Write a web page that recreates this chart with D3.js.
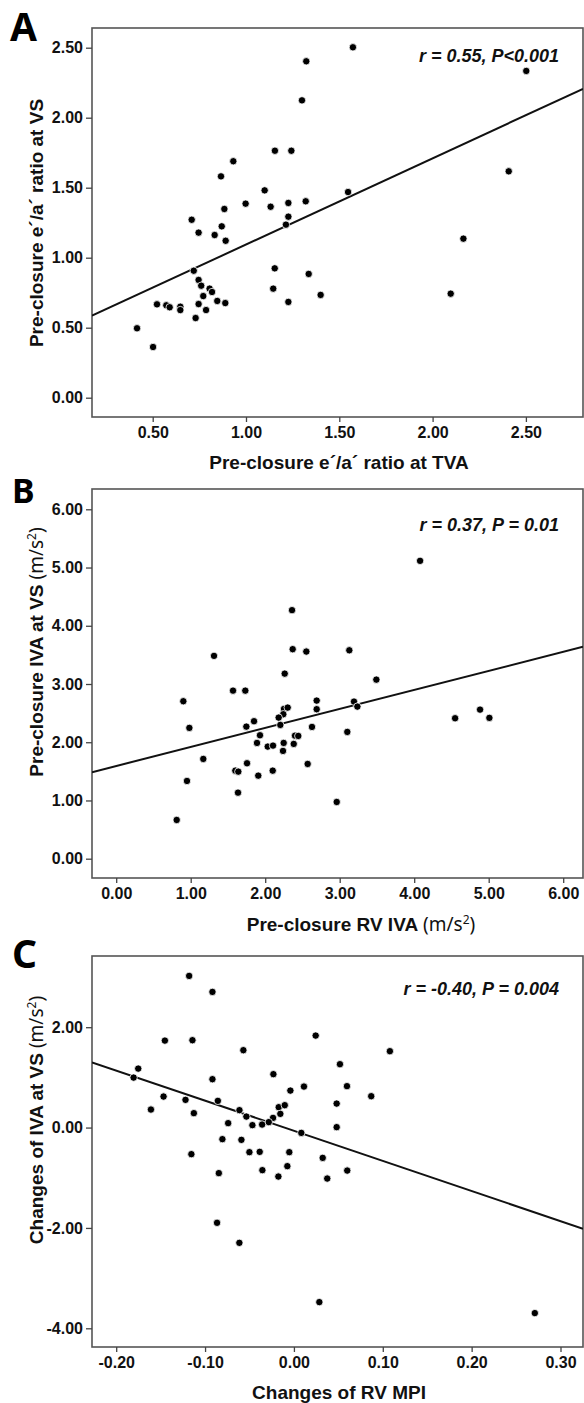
<!DOCTYPE html>
<html lang="en">
<head>
<meta charset="UTF-8">
<title>Correlation scatter plots</title>
<script src="https://d3js.org/d3.v7.min.js"></script>
<style>
  body { margin: 0; background: #fff; }
  svg { display: block; }
  .tick text { font-family: "Liberation Sans Narrow", "Arial Narrow", "Liberation Sans", Arial, sans-serif; font-weight: bold; font-size: 16px; fill: #111; }
  .tick line { stroke: #444; stroke-width: 1.3; }
  .title { font-family: "Liberation Sans", Arial, sans-serif; font-weight: bold; font-size: 19px; fill: #111; }
  .unit { font-family: "Noto Sans", "DejaVu Sans", sans-serif; font-weight: normal; }
  .note { font-family: "Liberation Sans", Arial, sans-serif; font-weight: bold; font-style: italic; font-size: 18px; fill: #111; }
  .letter { font-family: "Noto Sans", "Liberation Sans", sans-serif; font-weight: bold; fill: #000; }
</style>
</head>
<body>
<script>
const W = 584, H = 1403;

// ---- panel A : pre-closure e'/a' ratio, TVA (x) vs VS (y)
const ptsA = [
  [1.573,2.503],[1.323,2.403],[1.300,2.124],[1.155,1.764],[1.243,1.764],[0.932,1.689],
  [0.866,1.581],[1.100,1.481],[1.547,1.469],[0.998,1.386],[1.132,1.364],[1.227,1.391],
  [1.320,1.403],[0.884,1.348],[1.227,1.293],[0.709,1.271],[0.746,1.179],[0.870,1.224],
  [0.832,1.162],[0.891,1.121],[1.214,1.236],[0.720,0.907],[1.154,0.924],[1.336,0.884],
  [0.746,0.841],[0.760,0.800],[0.805,0.779],[0.818,0.755],[0.771,0.726],[1.146,0.779],
  [1.400,0.734],[0.846,0.691],[0.889,0.676],[1.227,0.684],[0.523,0.667],[0.573,0.660],
  [0.591,0.646],[0.648,0.650],[0.648,0.626],[0.746,0.669],[0.786,0.626],[0.730,0.569],
  [0.416,0.496],[0.502,0.362],[2.502,2.334],[2.408,1.617],[2.165,1.136],[2.097,0.743]
];
const fitA = [0.478, 0.616];          // intercept, slope
const xTicksA = [0.5, 1.0, 1.5, 2.0, 2.5];
const yTicksA = [0.0, 0.5, 1.0, 1.5, 2.0, 2.5];

// ---- panel B : pre-closure IVA, RV (x) vs VS (y)
const ptsB = [
  [2.360,4.268],[1.313,3.483],[2.369,3.598],[2.552,3.557],[3.129,3.579],[2.262,3.178],
  [3.492,3.075],[1.568,2.886],[1.733,2.886],[0.901,2.704],[2.691,2.715],[2.691,2.567],
  [3.192,2.698],[3.237,2.612],[2.252,2.572],[2.302,2.595],[2.243,2.481],[2.181,2.423],
  [0.982,2.246],[2.203,2.297],[1.747,2.268],[1.850,2.361],[1.930,2.120],[1.890,1.988],
  [2.034,1.925],[2.105,1.942],[2.248,1.988],[2.239,1.851],[2.383,1.971],[2.400,2.113],
  [2.444,2.108],[2.628,2.263],[3.102,2.177],[2.570,1.627],[2.960,0.974],[1.169,1.713],
  [1.756,1.639],[1.599,1.512],[1.639,1.495],[1.907,1.426],[2.101,1.512],[0.950,1.335],
  [1.635,1.134],[0.812,0.665],[4.079,5.115],[4.549,2.412],[4.884,2.560],[5.009,2.418]
];
const fitB = [1.592, 0.3267];
const xTicksB = [0, 1, 2, 3, 4, 5, 6];
const yTicksB = [0, 1, 2, 3, 4, 5, 6];

// ---- panel C : changes of RV MPI (x) vs changes of IVA at VS (y)
const ptsC = [
  [-0.1179,3.022],[-0.0917,2.703],[-0.1452,1.733],[-0.1142,1.741],[0.0245,1.833],[-0.0569,1.542],
  [0.1080,1.522],[0.0518,1.263],[-0.1752,1.175],[-0.1804,0.996],[-0.0917,0.964],[-0.0231,1.064],
  [0.0113,0.817],[0.0597,0.825],[0.0870,0.625],[-0.0040,0.737],[-0.1467,0.618],[-0.1220,0.552],
  [-0.0856,0.532],[-0.1609,0.359],[-0.1126,0.287],[-0.0613,0.347],[-0.0535,0.219],[-0.0171,0.406],
  [-0.0103,0.446],[-0.0153,0.273],[-0.0235,0.193],[-0.0283,0.108],[-0.0358,0.060],[-0.0467,0.048],
  [-0.0740,0.088],[0.0481,0.478],[0.0481,0.008],[0.0083,-0.106],[-0.0805,-0.231],[-0.0591,-0.245],
  [-0.1154,-0.530],[-0.0501,-0.490],[-0.0385,-0.484],[-0.0052,-0.490],[0.0324,-0.604],[-0.0845,-0.908],
  [-0.0355,-0.849],[-0.0074,-0.769],[-0.0175,-0.976],[0.0375,-1.016],[0.0600,-0.857],[-0.0865,-1.898],
  [-0.0614,-2.297],[0.0286,-3.478],[0.2711,-3.697]
];
const fitC = [-0.064, -6.003];
const xTicksC = [-0.2, -0.1, 0.0, 0.1, 0.2, 0.3];
const yTicksC = [-4, -2, 0, 2];

const panels = [
  { pts: ptsA, fit: fitA, xTicks: xTicksA, yTicks: yTicksA,
    box: { l: 92, r: 583, t: 28, b: 417 },
    x: d3.scaleLinear().domain([0.5, 2.5]).range([152.7, 525.9]),
    y: d3.scaleLinear().domain([0, 2.5]).range([397.7, 47.7]),
    letter: "A", letterX: 10, letterY: 41, letterSize: 39,
    note: "r = 0.55, P<0.001", noteY: 62,
    xTitle: ["Pre-closure e\u00b4/a\u00b4 ratio at TVA"], xTitleX: 339, xTitleY: 469,
    yTitle: ["Pre-closure e\u00b4/a\u00b4 ratio at VS"], yTitleY: 223 },
  { pts: ptsB, fit: fitB, xTicks: xTicksB, yTicks: yTicksB,
    box: { l: 92, r: 583, t: 489, b: 878 },
    x: d3.scaleLinear().domain([0, 6]).range([116.2, 563.2]),
    y: d3.scaleLinear().domain([0, 6]).range([858.7, 509.3]),
    letter: "B", letterX: 12, letterY: 503, letterSize: 34,
    note: "r = 0.37, P = 0.01", noteY: 531,
    xTitle: ["Pre-closure RV IVA", true], xTitleX: 361, xTitleY: 931,
    yTitle: ["Pre-closure IVA at VS", true], yTitleY: 652 },
  { pts: ptsC, fit: fitC, xTicks: xTicksC, yTicks: yTicksC,
    box: { l: 92, r: 583, t: 956, b: 1347 },
    x: d3.scaleLinear().domain([-0.2, 0.3]).range([116.2, 560.5]),
    y: d3.scaleLinear().domain([-4, 2]).range([1328.3, 1027.2]),
    letter: "C", letterX: 12, letterY: 968, letterSize: 39,
    note: "r = -0.40, P = 0.004", noteY: 995,
    xTitle: ["Changes of RV MPI"], xTitleX: 339, xTitleY: 1399,
    yTitle: ["Changes of IVA at VS", true], yTitleY: 1120 }
];

const svg = d3.select("body").append("svg")
  .attr("width", W).attr("height", H)
  .attr("viewBox", `0 0 ${W} ${H}`);

const fmt = d => d.toFixed(2);

// adds "(m/s²)" in a lighter face after a title
function addUnit(t) {
  t.append("tspan").attr("class", "unit").text(" (m/s");
  t.append("tspan").attr("class", "unit").attr("font-size", "12px").attr("dy", -7).text("2");
  t.append("tspan").attr("class", "unit").attr("dy", 7).text(")");
}

panels.forEach((p, i) => {
  const g = svg.append("g").attr("class", "panel");
  const bx = p.box;

  // plot frame
  g.append("rect")
    .attr("x", bx.l).attr("y", bx.t)
    .attr("width", bx.r - bx.l).attr("height", bx.b - bx.t)
    .attr("fill", "none").attr("stroke", "#555").attr("stroke-width", 1.6);

  // axes (domain path removed, the frame draws the box)
  g.append("g").attr("transform", `translate(0,${bx.b})`)
    .call(d3.axisBottom(p.x).tickValues(p.xTicks).tickFormat(fmt).tickSize(5).tickPadding(5))
    .call(a => a.select(".domain").remove());
  g.append("g").attr("transform", `translate(${bx.l},0)`)
    .call(d3.axisLeft(p.y).tickValues(p.yTicks).tickFormat(fmt).tickSize(6).tickPadding(3))
    .call(a => a.select(".domain").remove());

  // regression line across the frame
  const x0 = p.x.invert(bx.l), x1 = p.x.invert(bx.r);
  const clipId = "clip" + i;
  g.append("clipPath").attr("id", clipId).append("rect")
    .attr("x", bx.l).attr("y", bx.t).attr("width", bx.r - bx.l).attr("height", bx.b - bx.t);
  g.append("line")
    .attr("clip-path", `url(#${clipId})`)
    .attr("x1", p.x(x0)).attr("y1", p.y(p.fit[0] + p.fit[1] * x0))
    .attr("x2", p.x(x1)).attr("y2", p.y(p.fit[0] + p.fit[1] * x1))
    .attr("stroke", "#111").attr("stroke-width", 2);

  // points
  g.selectAll("circle.pt").data(p.pts).enter().append("circle")
    .attr("class", "pt")
    .attr("cx", d => p.x(d[0])).attr("cy", d => p.y(d[1]))
    .attr("r", 3.7)
    .attr("fill", "#000").attr("stroke", "#fff").attr("stroke-width", 0.8);

  // correlation note
  g.append("text").attr("class", "note")
    .attr("x", 559).attr("y", p.noteY).attr("text-anchor", "end")
    .text(p.note);

  // panel letter
  g.append("text").attr("class", "letter")
    .attr("x", p.letterX).attr("y", p.letterY)
    .attr("font-size", p.letterSize + "px")
    .text(p.letter);

  // x title
  const xt = g.append("text").attr("class", "title")
    .attr("x", p.xTitleX).attr("y", p.xTitleY).attr("text-anchor", "middle")
    .text(p.xTitle[0]);
  if (p.xTitle[1]) addUnit(xt);

  // y title
  const yt = g.append("text").attr("class", "title")
    .attr("transform", `translate(43,${p.yTitleY}) rotate(-90)`)
    .attr("text-anchor", "middle")
    .text(p.yTitle[0]);
  if (p.yTitle[1]) addUnit(yt);
});
</script>
</body>
</html>
